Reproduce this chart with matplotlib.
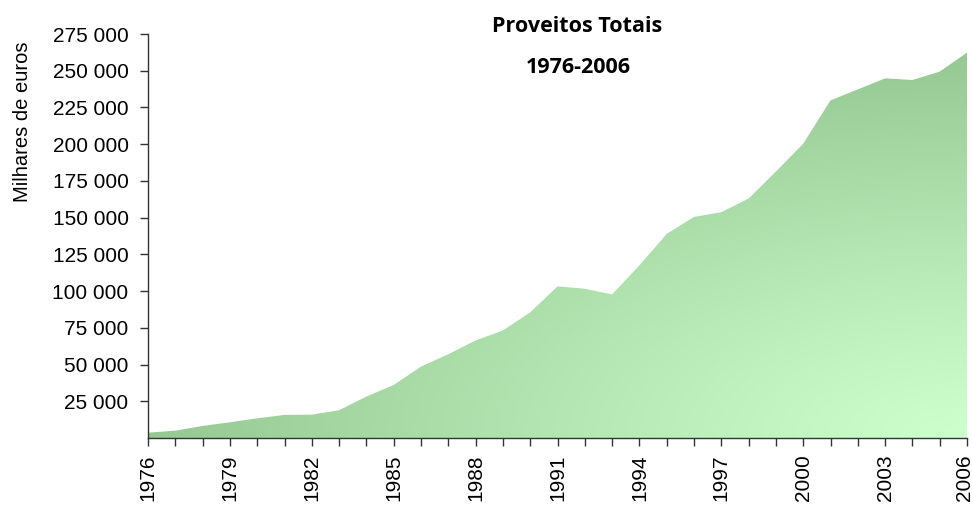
import numpy as np
import matplotlib.pyplot as plt
from matplotlib.colors import LinearSegmentedColormap
from matplotlib.ticker import FuncFormatter
from matplotlib.transforms import ScaledTranslation

# Proveitos totais, milhares de euros
years = list(range(1976, 2007))
proveitos = [3600, 5000, 8200, 10700, 13400, 15700, 15900, 18900, 28200, 36100,
             48600, 57000, 66400, 73200, 85500, 103200, 101600, 97700, 117500, 138900,
             150500, 153700, 163000, 181400, 200300, 229800, 237300, 244800, 243700, 249400,
             262300]
label_years = list(range(1976, 2007, 3))

fig = plt.figure(figsize=(9.72, 5.07), dpi=100)
ax = fig.add_axes([148 / 972, (507 - 438) / 507, (967 - 148) / 972, (438 - 34) / 507])

# area filled with a radial gradient: light at bottom-right, darker outwards
poly = ax.fill_between(years, proveitos, 0, color='none', lw=0)
cmap = LinearSegmentedColormap.from_list('verde', ['#ccffcc', '#95c892'])
ymax = max(proveitos)
gx, gy = np.meshgrid(np.linspace(0, 1, 400), np.linspace(275000 / ymax, 0, 400))
r = np.clip(np.hypot(1 - gx, gy), 0, 1.0) ** 1.15
img = ax.imshow(r, cmap=cmap, extent=[years[0], years[-1], 0, 275000],
                aspect='auto', origin='upper', zorder=1, vmin=0, vmax=1)
img.set_clip_path(poly.get_paths()[0], transform=ax.transData)

ax.set_xlim(years[0], years[-1])
ax.set_ylim(0, 275000)

ax.set_yticks(np.arange(25000, 275001, 25000))
ax.yaxis.set_major_formatter(FuncFormatter(lambda v, p: f'{int(v):,}'.replace(',', ' ')))
ax.set_xticks(label_years)
ax.set_xticks(years, minor=True)
ax.set_xticklabels([str(y) for y in label_years], rotation=90)

for s in ['top', 'right']:
    ax.spines[s].set_visible(False)
for s in ['left', 'bottom']:
    ax.spines[s].set_color('#333333')
    ax.spines[s].set_linewidth(1.0)

ax.tick_params(axis='y', direction='out', length=6, width=1, color='#333333',
               labelsize=15, pad=8)
ax.tick_params(axis='x', which='both', direction='out', length=6, width=1,
               color='#333333', labelsize=15, pad=6)
for lab in ax.get_xticklabels() + ax.get_yticklabels():
    lab.set_family('Liberation Sans')

# keep the last year label inside the figure
last = ax.get_xticklabels()[-1]
last.set_transform(last.get_transform() + ScaledTranslation(-3 / 100, 0, fig.dpi_scale_trans))

ax.set_ylabel('Milhares de euros', fontsize=14.5, family='Liberation Sans')
ax.yaxis.set_label_coords(-0.142, 0.782)

fig.text(577 / 972, 1 - 32 / 507, 'Proveitos Totais', ha='center', va='baseline',
         fontsize=15.5, fontweight='bold', family='Open Sans')
fig.text(578 / 972, 1 - 73 / 507, '1976-2006', ha='center', va='baseline',
         fontsize=15.5, fontweight='bold', family='Open Sans')

plt.savefig('out.png', dpi=100)
